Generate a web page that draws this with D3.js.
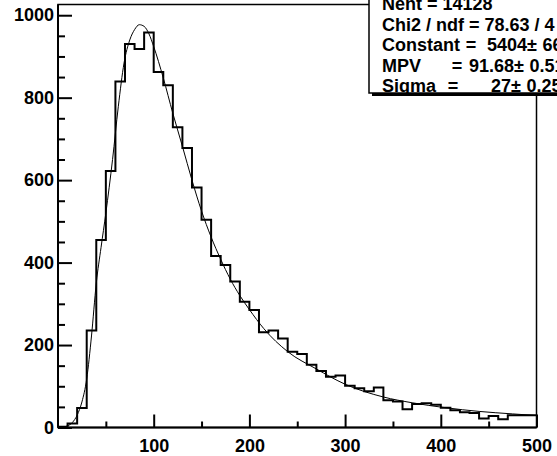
<!DOCTYPE html>
<html>
<head>
<meta charset="utf-8">
<script src="https://cdn.jsdelivr.net/npm/d3@7"></script>
<style>
  html, body { margin: 0; padding: 0; background: #fff; }
  svg { display: block; }
  text { font-family: "Liberation Sans", Arial, Helvetica, sans-serif; font-weight: bold; }
</style>
</head>
<body>
<div id="chart"></div>
<script>
// Histogram: 50 bins of width 10 between 0 and 500
const binWidth = 10;
const binCounts = [
    2, 10, 47, 235, 455, 622, 839, 930, 918, 958,
    862, 830, 728, 678, 582, 504, 416, 394, 354, 305,
    285, 231, 235, 216, 184, 178, 152, 137, 123, 126,
    101, 95, 88, 97, 66, 63, 44, 57, 59, 55,
    48, 42, 37, 35, 22, 28, 20, 30, 30, 30
];

// Landau fit curve
const fitX = [0, 5, 10, 15, 20, 25, 30, 35, 40, 45, 50, 57, 63, 69, 75, 80, 85, 90, 95, 100,
    110, 120, 130, 140, 150, 160, 170, 180, 190, 200, 215, 240, 270, 300, 340, 370, 405, 440, 475, 500];
const fitY = [0, 1, 4, 12, 30, 62, 118, 222, 350, 437, 520, 650, 778, 884, 940, 965, 977, 973, 955, 924,
    848, 762, 682, 600, 525, 462, 408, 360, 320, 286, 240, 184, 142, 105, 74, 60, 48, 39, 33, 29];

// Axis ticks
const xMajorTicks = [100, 200, 300, 400, 500];
const xMinorTicks = [50, 150, 250, 350, 450];
const yMajorTicks = [0, 200, 400, 600, 800, 1000];
const yMinorTicks = [50, 100, 150, 250, 300, 350, 450, 500, 550, 650, 700, 750, 850, 900, 950];
const xDomain = [0, 500];
const yDomain = [0, 1026];

// Stats box lines
const statRows = [
    {label: 'Nent = 14128'},
    {label: 'Chi2 / ndf = 78.63 / 4'},
    {label: 'Constant', eq: 471, valueEnd: 527, value: '5404', err: '66'},
    {label: 'MPV', eq: 457, valueEnd: 514, value: '91.68', err: '0.51'},
    {label: 'Sigma', eq: 453, valueEnd: 511, value: '27', err: '0.25'}
];

const width = 557, height = 456;
const plot = {left: 58, right: 536.5, top: 4.5, bottom: 427.5};
const box = {left: 369, bottom: 93};

const svg = d3.select('#chart')
    .append('svg')
    .attr('width', width)
    .attr('height', height);

const x = d3.scaleLinear().domain(xDomain).range([plot.left, plot.right]);
const y = d3.scaleLinear().domain(yDomain).range([plot.bottom, plot.top]);

// Frame
svg.append('rect')
    .attr('x', plot.left)
    .attr('y', plot.top)
    .attr('width', plot.right - plot.left)
    .attr('height', plot.bottom - plot.top)
    .attr('fill', 'none')
    .attr('stroke', '#000')
    .attr('stroke-width', 1.5);

// Y axis: minor then major ticks (pointing inward)
svg.append('g')
    .attr('transform', `translate(${plot.left},0)`)
    .call(d3.axisLeft(y).tickValues(yMinorTicks).tickSize(-7).tickFormat(''))
    .call(g => g.select('.domain').remove());

svg.append('g')
    .attr('transform', `translate(${plot.left},0)`)
    .call(d3.axisLeft(y).tickValues(yMajorTicks).tickSize(-14).tickPadding(4).tickFormat(d3.format('d')))
    .call(g => g.select('.domain').remove())
    .call(g => g.selectAll('text').attr('font-size', 18).attr('fill', '#000'));

// X axis
svg.append('g')
    .attr('transform', `translate(0,${plot.bottom})`)
    .call(d3.axisBottom(x).tickValues(xMinorTicks).tickSize(-6).tickFormat(''))
    .call(g => g.select('.domain').remove());

svg.append('g')
    .attr('transform', `translate(0,${plot.bottom})`)
    .call(d3.axisBottom(x).tickValues(xMajorTicks).tickSize(-13).tickPadding(12).tickFormat(d3.format('d')))
    .call(g => g.select('.domain').remove())
    .call(g => g.selectAll('text').attr('font-size', 18).attr('fill', '#000'));

svg.selectAll('.tick line').attr('stroke', '#000').attr('stroke-width', 2);

// Axis lines
svg.append('line')
    .attr('x1', plot.left).attr('x2', plot.left)
    .attr('y1', plot.top).attr('y2', plot.bottom)
    .attr('stroke', '#000').attr('stroke-width', 2);
svg.append('line')
    .attr('x1', plot.left).attr('x2', plot.right)
    .attr('y1', plot.bottom).attr('y2', plot.bottom)
    .attr('stroke', '#000').attr('stroke-width', 2);

// Histogram as step outline
const steps = [[xDomain[0], 0]];
binCounts.forEach((c, i) => {
    steps.push([i * binWidth, c]);
    steps.push([(i + 1) * binWidth, c]);
});
svg.append('path')
    .datum(steps)
    .attr('fill', 'none')
    .attr('stroke', '#000')
    .attr('stroke-width', 2)
    .attr('d', d3.line().x(d => x(d[0])).y(d => y(d[1])));

// Fit curve
svg.append('path')
    .datum(fitX.map((v, i) => [v, fitY[i]]))
    .attr('fill', 'none')
    .attr('stroke', '#000')
    .attr('stroke-width', 1)
    .attr('d', d3.line().x(d => x(d[0])).y(d => y(d[1])).curve(d3.curveMonotoneX));

// Stats box with shadow
svg.append('defs').append('clipPath')
    .attr('id', 'box-clip')
    .append('rect')
    .attr('x', box.left).attr('y', -20)
    .attr('width', 300).attr('height', box.bottom + 20);

svg.append('rect')
    .attr('x', box.left + 3).attr('y', box.bottom)
    .attr('width', 200).attr('height', 3)
    .attr('fill', '#000');
svg.append('rect')
    .attr('x', box.left).attr('y', -10)
    .attr('width', 200).attr('height', box.bottom + 10)
    .attr('fill', '#fff')
    .attr('stroke', '#000')
    .attr('stroke-width', 1.5);

const stats = svg.append('g')
    .attr('clip-path', 'url(#box-clip)')
    .attr('font-size', 18)
    .attr('fill', '#000');
statRows.forEach((row, i) => {
    const yy = 10 + i * 20.5;
    stats.append('text').attr('x', 382).attr('y', yy).text(row.label);
    if (row.value) {
        stats.append('text').attr('x', row.eq).attr('y', yy).attr('text-anchor', 'middle').text('=');
        stats.append('text').attr('x', row.valueEnd).attr('y', yy).attr('text-anchor', 'end').text(row.value);
        stats.append('text').attr('x', row.valueEnd).attr('y', yy).text('\u00b1');
        stats.append('text').attr('x', row.valueEnd + 15.5).attr('y', yy).text(row.err);
    }
});
</script>
</body>
</html>
